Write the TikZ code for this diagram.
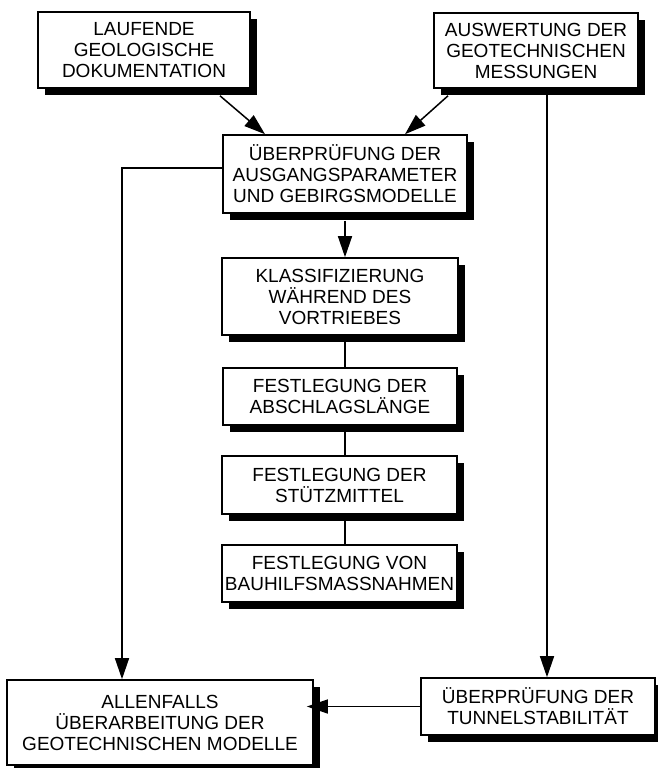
\documentclass[tikz,border=0pt]{standalone}
\usepackage{fontspec}
\setmainfont{Liberation Sans}
\usetikzlibrary{arrows.meta,shadows}

\tikzset{
  kasten/.style={draw, line width=1.6pt, fill=white, align=center, inner sep=0pt,
    font=\fontsize{19}{21}\selectfont,
    drop shadow={shadow xshift=7pt, shadow yshift=-7pt, fill=black, opacity=1}},
  pfeil/.style={line width=1.5pt, -{Triangle[length=21pt,width=14pt]}},
  linie/.style={line width=1.5pt}
}

\begin{document}
\begin{tikzpicture}[x=1pt, y=-1pt]
  \useasboundingbox (0,0) rectangle (657,768);

  % Eingangsdaten
  \node[kasten, minimum width=212pt, minimum height=76pt] (lauf) at (144,50)
    {LAUFENDE\\GEOLOGISCHE\\DOKUMENTATION};
  \node[kasten, minimum width=204pt, minimum height=75pt] (ausw) at (536,50.5)
    {AUSWERTUNG DER\\GEOTECHNISCHEN\\MESSUNGEN};

  % Ueberpruefung
  \node[kasten, minimum width=244pt, minimum height=78pt] (ueber) at (345,174)
    {ÜBERPRÜFUNG DER\\AUSGANGSPARAMETER\\UND GEBIRGSMODELLE};

  % Festlegungen
  \node[kasten, minimum width=236pt, minimum height=77pt] (klass) at (340,296.5)
    {KLASSIFIZIERUNG\\WÄHREND DES\\VORTRIEBES};
  \node[kasten, minimum width=234pt, minimum height=57pt] (abschl) at (340,396.5)
    {FESTLEGUNG DER\\ABSCHLAGSLÄNGE};
  \node[kasten, minimum width=235pt, minimum height=58pt] (stuetz) at (339.5,485)
    {FESTLEGUNG DER\\STÜTZMITTEL};
  \node[kasten, minimum width=235pt, minimum height=57pt] (bauhilf) at (339.5,573.5)
    {FESTLEGUNG VON\\BAUHILFSMASSNAHMEN};

  % Unten
  \node[kasten, minimum width=306pt, minimum height=85pt] (allenf) at (160,722.5)
    {ALLENFALLS\\ÜBERARBEITUNG DER\\GEOTECHNISCHEN MODELLE};
  \node[kasten, minimum width=234pt, minimum height=57pt] (tunnel) at (538,706.5)
    {ÜBERPRÜFUNG DER\\TUNNELSTABILITÄT};

  % Pfeile
  \draw[pfeil] ([xshift=76pt,yshift=-7pt]lauf.south) -- ([xshift=-80pt]ueber.north);
  \draw[pfeil] ([xshift=-88pt,yshift=-7pt]ausw.south) -- ([xshift=60pt]ueber.north);
  \draw[pfeil] ([yshift=6pt]ueber.west) -| ([xshift=-38pt]allenf.north);
  \draw[pfeil] ([yshift=-7pt]ueber.south) -- (ueber.south |- klass.north);
  \draw[linie] (ueber.south |- klass.south) -- (ueber.south |- abschl.north);
  \draw[linie] (ueber.south |- abschl.south) -- (ueber.south |- stuetz.north);
  \draw[linie] (ueber.south |- stuetz.south) -- (ueber.south |- bauhilf.north);
  \draw[pfeil] ([xshift=11pt]ausw.south) -- ([xshift=11pt]ausw.south |- tunnel.north);
  \draw[pfeil, shorten >=-7pt] (tunnel.west) -- (tunnel.west -| allenf.east);
\end{tikzpicture}
\end{document}
